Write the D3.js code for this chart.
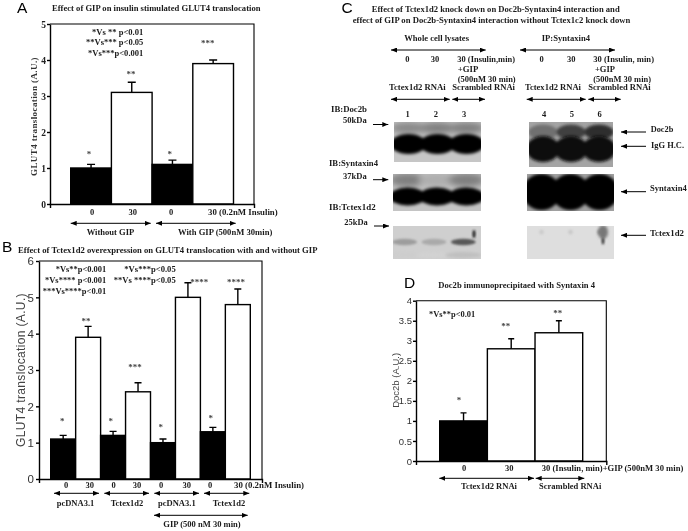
<!DOCTYPE html>
<html><head><meta charset="utf-8">
<style>html,body{margin:0;padding:0;background:#fff}svg{display:block;filter:blur(0.35px)}</style>
<script src="https://d3js.org/d3.v7.min.js"></script></head><body>
<svg id="c" width="688" height="531"></svg>
<script>
// ---- data ----
const valuesA=[1.0,3.1,1.1,3.9], errorsA=[0.1,0.28,0.12,0.1], starsA=["*","**","*","***"], starLevelA=[1.43,3.63,1.43,4.5];
const valuesB=[1.1,3.9,1.2,2.4,1.0,5.0,1.3,4.8], errorsB=[0.1,0.3,0.11,0.25,0.1,0.4,0.12,0.43],
      starsB=["*","**","*","***","*","****","*","****"], starLevelB=[1.63,4.38,1.63,3.11,1.47,5.46,1.7,5.46];
const valuesD=[1.0,2.8,3.2], errorsD=[0.2,0.25,0.3], starsD=["*","**","**"], starLevelD=[1.55,3.4,3.73];
const ticksA=[0,1,2,3,4,5], ticksB=[0,1,2,3,4,5,6], ticksD=[0,0.5,1,1.5,2,2.5,3,3.5,4];
const lanesLeft=[1,2,3], lanesRight=[4,5,6];
const doc2bLeft=[1,1,1], syntaxinLeft=[1,1,1], tctexLeft=[0.28,0.22,0.6];
const doc2bRight=[0.5,0.72,0.8], iggRight=[0.96,0.97,0.97], syntaxinRight=[1,1,1], tctexRight=[0.06,0.07,0.3];

const SERIF="'Liberation Serif','Times New Roman',serif", SANS="'Liberation Sans',Arial,sans-serif";
const svg=d3.select("#c");
svg.append("rect").attr("width",688).attr("height",531).attr("fill","#fff");
const defs=svg.append("defs");
[["hEnd","M0,0L6,2.5L0,5Z",6],["hStart","M6,0L0,2.5L6,5Z",0]].forEach(([id,p,rx])=>{
  defs.append("marker").attr("id",id).attr("markerUnits","userSpaceOnUse").attr("markerWidth",6).attr("markerHeight",5)
   .attr("refX",rx).attr("refY",2.5).attr("orient","auto").append("path").attr("d",p).attr("fill","#000");
});
[["b1",1],["b2",1.8],["b3",3.2]].forEach(([id,s])=>defs.append("filter").attr("id",id).attr("x","-40%").attr("y","-80%").attr("width","180%").attr("height","260%")
   .append("feGaussianBlur").attr("stdDeviation",s));

function T(x,y,s,o={}){
  const e=svg.append("text").attr("x",x).attr("y",y).text(s)
    .attr("font-family",o.f||SERIF).attr("font-weight",o.w||"bold").attr("font-size",o.s||8.5)
    .attr("fill",o.c||"#1a1a1a").attr("text-anchor",o.a||"start");
  if(o.x2){e.attr("textLength",o.x2-x).attr("lengthAdjust","spacingAndGlyphs");}
  return e;
}
function VT(cx,y1,y2,s,o={}){
  return svg.append("text").attr("transform",`translate(${cx},${(y1+y2)/2}) rotate(-90)`).attr("text-anchor","middle").text(s)
    .attr("font-family",o.f||SERIF).attr("font-weight",o.w||"bold").attr("font-size",o.s||9)
    .attr("fill",o.c||"#222").attr("letter-spacing",o.ls||0);
}
function arrow(x1,x2,y,both,toLeft){
  const l=svg.append("line").attr("x1",x1).attr("x2",x2).attr("y1",y).attr("y2",y).attr("stroke","#000").attr("stroke-width",1);
  if(both){l.attr("marker-start","url(#hStart)").attr("marker-end","url(#hEnd)");}
  else if(toLeft){l.attr("marker-start","url(#hStart)");}
  else{l.attr("marker-end","url(#hEnd)");}
}
function barChart(o){
  const y=d3.scaleLinear().domain(o.domain).range([o.y0,o.yTop]);
  const x=d3.scaleBand().domain(o.values.map((_,i)=>i)).range(o.barRange);
  const g=svg.append("g");
  const frame=d3.scaleLinear().domain([0,1]).range([o.left,o.right]);
  g.selectAll("rect.bar").data(o.values).join("rect").attr("class","bar")
    .attr("x",(_,i)=>x(i)).attr("width",x.bandwidth()).attr("y",d=>y(d)).attr("height",d=>o.y0-y(d))
    .attr("fill",(_,i)=>o.fill(i)).attr("stroke","#000").attr("stroke-width",1.4);
  o.values.forEach((v,i)=>{
    const cx=x(i)+x.bandwidth()/2, t=y(v+o.errors[i]);
    g.append("path").attr("d",`M${cx},${y(v)}V${t}M${cx-o.cap},${t}H${cx+o.cap}`).attr("stroke","#000").attr("stroke-width",1.4).attr("fill","none");
    svg.append("text").attr("x",o.starX[i]).attr("y",y(o.starLevels[i])+4).attr("text-anchor","middle").text(o.stars[i])
      .attr("font-family",SERIF).attr("font-weight","bold").attr("font-size",9).attr("fill","#444");
  });
  g.append("path").attr("d",`M${o.left},${o.yTop}H${o.right}V${o.y0}`).attr("stroke","#000").attr("stroke-width",1.1).attr("fill","none");
  const ay=g.append("g").attr("transform",`translate(${o.left},0)`).call(d3.axisLeft(y).tickValues(o.ticks).tickFormat(d=>d).tickSize(3).tickPadding(o.pad).tickSizeOuter(0));
  const ax=g.append("g").attr("transform",`translate(0,${o.y0})`).call(d3.axisBottom(frame).tickValues([]).tickSizeOuter(4));
  [ay,ax].forEach(a=>{a.selectAll("path,line").attr("stroke","#000").attr("stroke-width",1.4);});
  ay.selectAll("text").attr("font-family",o.tf).attr("font-weight",o.tw).attr("font-size",o.ts).attr("fill",o.tc);
}

// ---- panel A ----
T(17,13,"A",{f:SANS,w:"normal",s:15.5,c:"#000"});
T(52,11,"Effect of GIP on insulin stimulated GLUT4 translocation",{x2:260.5,s:8.3});
barChart({values:valuesA,errors:errorsA,stars:starsA,starLevels:starLevelA,starX:[89,131,169.7,207.7],domain:[0,5],y0:204,yTop:24,left:50,right:254,
  barRange:[70.7,233.5],fill:i=>i%2?"#fff":"#000",cap:4,ticks:ticksA,tf:SERIF,tw:"bold",ts:9.5,tc:"#222",pad:1});
T(92,34.5,"*Vs ** p<0.01",{x2:143.3,s:8.8});
T(86,45.3,"**Vs*** p<0.05",{x2:143.3,s:8.8});
T(88,56,"*Vs***p<0.001",{x2:143.3,s:8.8});
VT(37,59,174,"GLUT4 translocation (A.U.)",{s:9,c:"#333",ls:0.4});
[[92,"0"],[132.7,"30"],[171,"0"]].forEach(([x,s])=>T(x,215,s,{a:"middle"}));
T(208,215,"30  (0.2nM Insulin)",{x2:277.7});
arrow(70.7,150.7,223.3,true); arrow(156,235.7,223.3,true);
T(86.7,235,"Without GIP",{x2:134.3});
T(178,235,"With GIP (500nM 30min)",{x2:272.3});

// ---- panel B ----
T(2,252,"B",{f:SANS,w:"normal",s:15.5,c:"#000"});
T(18,253,"Effect of Tctex1d2 overexpression on GLUT4 translocation with and without GIP",{x2:317.5,s:8.3});
barChart({values:valuesB,errors:errorsB,stars:starsB,starLevels:starLevelB,starX:[62.3,86,110.7,135,160.7,199.3,210.7,236],domain:[0,6],y0:479,yTop:261,left:39,right:262,
  barRange:[50.7,250.3],fill:i=>i%2?"#fff":"#000",cap:3.5,ticks:ticksB,tf:SANS,tw:"normal",ts:11.5,tc:"#333",pad:2});
T(55.7,272,"*Vs**p<0.001",{x2:106.3,s:8.6});
T(45,283,"*Vs**** p<0.001",{x2:106.3,s:8.6});
T(42.7,293.7,"***Vs****p<0.01",{x2:106.3,s:8.6});
T(124.3,272,"*Vs***p<0.05",{x2:175.7,s:8.6});
T(113.7,283,"**Vs ****p<0.05",{x2:175.7,s:8.6});
VT(25,290,450,"GLUT4 translocation (A.U.)",{f:SANS,w:"normal",s:12,c:"#444",ls:0.35});
[[66,"0"],[89.7,"30"],[113.7,"0"],[137,"30"],[161,"0"],[186.7,"30"],[210,"0"]].forEach(([x,s])=>T(x,487.7,s,{a:"middle"}));
T(234,487.7,"30  (0.2nM Insulin)",{x2:304});
[[54,99],[104.3,149],[154.3,199],[204,249.3]].forEach(([a,b])=>arrow(a,b,493.3,true));
[[56.7,94.3,"pcDNA3.1"],[110.7,143.3,"Tctex1d2"],[158,195.7,"pcDNA3.1"],[212.7,245.3,"Tctex1d2"]].forEach(([a,b,s])=>T(a,505.7,s,{x2:b}));
arrow(154,247.7,515.3,true);
T(163.3,527.3,"GIP (500 nM 30 min)",{x2:240.7});

// ---- panel C ----
T(341.5,13,"C",{f:SANS,w:"normal",s:15.5,c:"#000"});
T(371.7,12,"Effect of Tctex1d2 knock down on Doc2b-Syntaxin4 interaction and",{x2:619.7,s:8.3});
T(352.7,22.7,"effect of GIP on Doc2b-Syntaxin4 interaction without Tctex1c2 knock down",{x2:630.3,s:8.3});
T(404.3,40.7,"Whole cell lysates",{x2:469});
T(541.7,40.7,"IP:Syntaxin4",{x2:590});
arrow(391,485.7,50,true); arrow(520,615,50,true);
[[407.3,"0"],[435,"30"],[541.7,"0"],[571.3,"30"]].forEach(([x,s])=>T(x,62.3,s,{a:"middle"}));
T(457.3,62.3,"30 (Insulin,min)",{x2:515});
T(593.3,62.3,"30 (Insulin, min)",{x2:654});
T(457.7,71.7,"+GIP",{x2:478.3}); T(595,71.7,"+GIP",{x2:615});
T(457.7,81.7,"(500nM 30 min)",{x2:515.7}); T(593.3,81.7,"(500nM 30 min)",{x2:651});
[[389,445.7],[525,581]].forEach(([a,b])=>T(a,90.3,"Tctex1d2 RNAi",{x2:b}));
[[452.3,515],[588.3,650.7]].forEach(([a,b])=>T(a,90.3,"Scrambled RNAi",{x2:b}));
[[391,449.7],[452.3,485],[526.7,585.7],[588.3,620.7]].forEach(([a,b])=>arrow(a,b,99.3,true));
const laneX=d3.scalePoint().domain(lanesLeft).range([407.7,464]), laneXR=d3.scalePoint().domain(lanesRight).range([544,599.7]);
lanesLeft.forEach(l=>T(laneX(l),116.7,l,{a:"middle"}));
lanesRight.forEach(l=>T(laneXR(l),116.7,l,{a:"middle"}));
T(331,112.3,"IB:Doc2b",{x2:367}); T(343,123,"50kDa",{x2:366.7}); arrow(373,388.3,124.5);
T(329,166,"IB:Syntaxin4",{x2:378}); T(343,178.7,"37kDa",{x2:366.7}); arrow(373,388.3,179.7);
T(329,210,"IB:Tctex1d2",{x2:375.7}); T(344.3,224.7,"25kDa",{x2:367.7}); arrow(374,389,226);
[[132,131.7,650.7,673.3,"Doc2b"],[146.3,148,651,684,"IgG H.C."],[191.7,191.3,650,686.7,"Syntaxin4"],[235.3,235.7,650,684,"Tctex1d2"]].forEach(([ay,ty,a,b,s])=>{
  arrow(621,646,ay,false,true); T(a,ty,s,{x2:b});
});
// blots
const shade=d3.scaleLinear().domain([0,1]).range(["#d8d8d8","#050505"]);
let clipN=0;
function blot(x0,y0,w,h,bg,lanes,bands){
  const id="cl"+(clipN++);
  defs.append("clipPath").attr("id",id).append("rect").attr("x",x0).attr("y",y0).attr("width",w).attr("height",h);
  const g=svg.append("g").attr("clip-path",`url(#${id})`);
  g.append("rect").attr("x",x0).attr("y",y0).attr("width",w).attr("height",h).attr("fill",bg);
  const lx=d3.scaleBand().domain(lanes).range([x0,x0+w]);
  bands.forEach(b=>{
    g.append("g").attr("filter",`url(#${b.blur||"b2"})`).selectAll("ellipse").data(b.vals).join("ellipse")
      .attr("cx",(_,i)=>lx(lanes[i])+lx.bandwidth()/2+(b.dx||0)).attr("cy",y0+b.cy)
      .attr("rx",lx.bandwidth()*(b.rx||0.62)).attr("ry",b.ry).attr("fill",d=>shade(d));
  });
  return g;
}
blot(394,122,87,40,"#c6c6c6",lanesLeft,[{cy:6,ry:6,vals:[0.38,0.42,0.42],blur:"b3"},{cy:22,ry:10,vals:doc2bLeft}]);
blot(529,122,84,45,"#a4a4a4",lanesRight,[{cy:10,ry:7.5,vals:doc2bRight,rx:0.52},{cy:27,ry:13,vals:iggRight,rx:0.6}]);
blot(393,174,88,37,"#c4c4c4",lanesLeft,[{cy:6,ry:7,vals:[0.42,0.2,0.42],blur:"b3"},{cy:22.5,ry:9,vals:syntaxinLeft}]);
blot(527,174,87,37,"#a0a0a0",lanesRight,[{cy:18,ry:18,vals:syntaxinRight,rx:0.66}]);
const tcL=blot(393,226,88,33,"#cfcfcf",lanesLeft,[{cy:16,ry:3.2,vals:tctexLeft,rx:0.42,blur:"b1",dx:-3},{cy:29,ry:3,vals:[0.05,0.03,0.12],blur:"b2",dx:-3}]);
tcL.append("ellipse").attr("cx",474).attr("cy",234).attr("rx",1.5).attr("ry",4).attr("fill","#222").attr("filter","url(#b1)");
const tcR=blot(527,226,87,33,"#dedede",lanesRight,[{cy:6,ry:2.5,vals:tctexRight,rx:0.08,blur:"b1"}]);
tcR.append("ellipse").attr("cx",603).attr("cy",232).attr("rx",5).attr("ry",7).attr("fill","#777").attr("filter","url(#b2)");
tcR.append("ellipse").attr("cx",603).attr("cy",241).attr("rx",1.3).attr("ry",3.5).attr("fill","#333").attr("filter","url(#b1)");

// ---- panel D ----
T(404,288.3,"D",{f:SANS,w:"normal",s:15.5,c:"#000"});
T(438.3,288,"Doc2b immunoprecipitaed with Syntaxin 4",{x2:595,s:8.3});
barChart({values:valuesD,errors:errorsD,stars:starsD,starLevels:starLevelD,starX:[459,505.7,557.7],domain:[0,4],y0:461,yTop:300.7,left:416,right:606.3,
  barRange:[439.7,582.7],fill:i=>i===0?"#000":"#fff",cap:3,ticks:ticksD,tf:SANS,tw:"normal",ts:9.5,tc:"#333",pad:1});
T(429,316.7,"*Vs**p<0.01",{x2:475.3,s:8.6});
VT(399,353,407.7,"Doc2b (A.U.)",{f:SANS,w:"normal",s:9.5,c:"#444"});
[[464,"0"],[509.3,"30"]].forEach(([x,s])=>T(x,471.3,s,{a:"middle"}));
T(541.7,471.3,"30 (Insulin, min)+GIP (500nM 30 min)",{x2:683.3});
arrow(439.3,534,478.3,true); arrow(535.7,584.3,478.3,true);
T(461,489,"Tctex1d2 RNAi",{x2:517}); T(539,489,"Scrambled RNAi",{x2:601.3});
</script></body></html>
